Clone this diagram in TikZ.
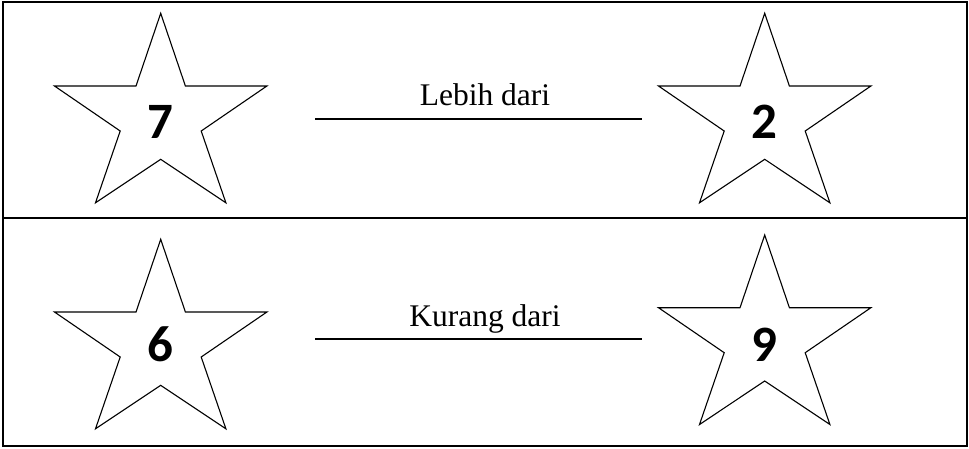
\documentclass[tikz,border=0pt]{standalone}
\usepackage{fontspec}
\setmainfont{Liberation Serif}
\newfontfamily\numfont{Carlito}
\begin{document}
\begin{tikzpicture}[x=1pt,y=-1pt,
  frame/.style={line width=2pt},
  starline/.style={line width=1.1pt, line join=miter},
  numlabel/.style={anchor=base, inner sep=0pt, font=\numfont\bfseries\fontsize{51}{51}\selectfont},
  rellabel/.style={anchor=base, inner sep=0pt, font=\fontsize{31.5}{31.5}\selectfont},
  relline/.style={line width=1.4pt},
  wstar/.pic={\draw[starline] (0,0) -- (24.7,72.7) -- (106.2,72.7) -- (40.5,117.7) -- (65.2,189.5) -- (0,146) -- (-65.2,189.5) -- (-40.5,117.7) -- (-106.2,72.7) -- (-24.7,72.7) -- cycle;}
]
\useasboundingbox (0,0) rectangle (969,448);
\draw[frame] (3,2) rectangle (966.5,446);
\draw[frame] (3,218.3) -- (966.5,218.3);
% row 1
\pic at (160.7,13.3) {wstar};
\pic at (764.7,13.3) {wstar};
\node[numlabel] (n7) at (160.7,138.3) {7};
\node[numlabel] (n2) at (764.7,138.3) {2};
\coordinate (a1) at (315,119);
\coordinate (b1) at (641.7,119);
\draw[relline] (a1) -- (b1);
\node[rellabel] (t1) at (485,105) {Lebih dari};
% row 2
\pic at (160.7,239.3) {wstar};
\pic at (764.7,235) {wstar};
\node[numlabel] (n6) at (160.7,361.7) {6};
\node[numlabel] (n9) at (764.7,361.7) {9};
\coordinate (a2) at (315,339);
\coordinate (b2) at (641.7,339);
\draw[relline] (a2) -- (b2);
\node[rellabel] (t2) at (485,326) {Kurang dari};
\end{tikzpicture}
\end{document}
